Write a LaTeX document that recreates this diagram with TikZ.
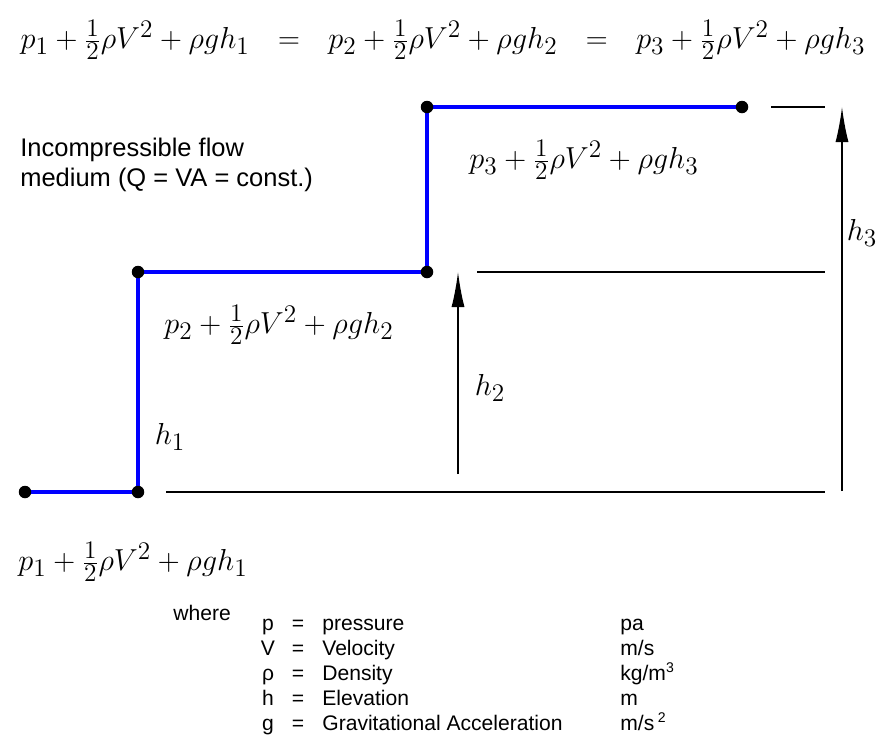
\documentclass[tikz,border=0pt]{standalone}
\usepackage{fontspec}
\newfontfamily\legendfont{Liberation Sans}
\usetikzlibrary{arrows.meta}

\begin{document}
\begin{tikzpicture}[
    x=0.02cm, y=-0.02cm,
    up/.tip={Latex[length=0.7cm,width=0.26cm]},
    pipe/.style={blue, line width=2.6pt},
    dot/.style={circle, fill=black, inner sep=0pt, minimum size=0.25cm},
    level/.style={line width=0.8pt},
    height/.style={line width=0.8pt, -up},
    bern/.style={font=\fontsize{19}{23}\selectfont, inner sep=0pt},
    note/.style={font=\fontsize{14.5}{17}\selectfont\legendfont, align=left, inner sep=0pt},
    leg/.style={font=\fontsize{12}{14}\selectfont\legendfont, inner sep=0pt, anchor=base},
]
    \useasboundingbox (0,0) rectangle (885,738);

    % Bernoulli along the pipe
    \node[bern] (energy) at (443,40) {$p_1+\frac{1}{2}\rho V^2+\rho g h_1\hspace{0.6em}=\hspace{0.6em}p_2+\frac{1}{2}\rho V^2+\rho g h_2\hspace{0.6em}=\hspace{0.6em}p_3+\frac{1}{2}\rho V^2+\rho g h_3$};

    % pipe corners
    \coordinate (in)  at (25,492);
    \coordinate (s1)  at (138,492);
    \coordinate (s2)  at (138,272);
    \coordinate (s3)  at (427,272);
    \coordinate (s4)  at (427,107);
    \coordinate (out) at (742,107);
    \draw[pipe] (in) -- (s1) -- (s2) -- (s3) -- (s4) -- (out);
    \foreach \c in {in,s1,s2,s3,s4,out}
        \node[dot] (dot-\c) at (\c) {};

    % datum and levels
    \coordinate (d0) at (166,492);
    \coordinate (d1) at (825,492);
    \coordinate (l2a) at (477,272);
    \coordinate (l2b) at (825,272);
    \coordinate (l3a) at (771,107);
    \coordinate (l3b) at (825,107);
    \draw[level] (d0) -- (d1);
    \draw[level] (l2a) -- (l2b);
    \draw[level] (l3a) -- (l3b);

    \coordinate (b2) at (458,474);
    \coordinate (t2) at (458,272);
    \coordinate (b3) at (842,491);
    \coordinate (t3) at (842,107);
    \draw[height] (b2) -- (t2);
    \draw[height] (b3) -- (t3);

    \node[bern] (h1) at (170,437) {$h_1$};
    \node[bern] (h2) at (490,388) {$h_2$};
    \node[bern] (h3) at (862,233) {$h_3$};

    \node[bern] (e1) at (133,562) {$p_1+\frac{1}{2}\rho V^2+\rho g h_1$};
    \node[bern] (e2) at (279,325) {$p_2+\frac{1}{2}\rho V^2+\rho g h_2$};
    \node[bern] (e3) at (584,160) {$p_3+\frac{1}{2}\rho V^2+\rho g h_3$};

    \node[note, anchor=west] (medium) at (20,165) {Incompressible flow\\medium (Q = VA = const.)};

    % legend
    \node[leg, anchor=base west] (where) at (173,620) {where};
    \foreach \sym/\what/\unit [count=\i from 0] in {p/pressure/pa, V/Velocity/{m/s}, ρ/Density/{kg/m\textsuperscript{3}}, h/Elevation/m, g/Gravitational Acceleration/{m/s\,\textsuperscript{2}}} {
        \node[leg] (sym-\i) at (268,630+25*\i) {\sym};
        \node[leg] (eq-\i) at (298,630+25*\i) {=};
        \node[leg, anchor=base west] (what-\i) at (322,630+25*\i) {\what};
        \node[leg, anchor=base west] (unit-\i) at (620,630+25*\i) {\unit};
    }
\end{tikzpicture}
\end{document}
